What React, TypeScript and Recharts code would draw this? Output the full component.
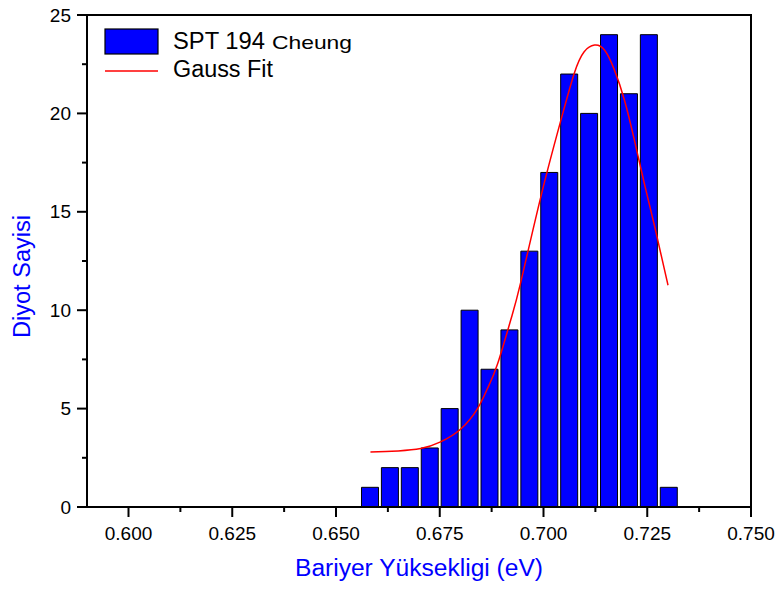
import React from "react";
import {
  ComposedChart,
  Bar,
  Line,
  XAxis,
  YAxis,
  ReferenceArea,
  Customized,
} from "recharts";

// Histogram bins (bin centers, eV) and counts
const binCenters = [
  0.6583, 0.6631, 0.6679, 0.6727, 0.6775, 0.6823, 0.6871, 0.6919, 0.6967,
  0.7015, 0.7063, 0.7111, 0.7159, 0.7207, 0.7255, 0.7303,
];
const counts = [1, 2, 2, 3, 5, 10, 7, 9, 13, 17, 22, 20, 24, 21, 24, 1];

// Gauss fit curve
const fitX = [
  0.6583, 0.662, 0.665, 0.6704, 0.6752, 0.68, 0.6841, 0.6865, 0.6889, 0.6921,
  0.6945, 0.6994, 0.7042, 0.7074, 0.7098, 0.7123, 0.7147, 0.7171, 0.7195,
  0.7219, 0.7243, 0.7268, 0.73,
];
const fitY = [
  2.8, 2.82, 2.85, 2.97, 3.31, 3.95, 5.0, 6.02, 7.25, 9.5, 11.4, 15.8, 19.66,
  22.03, 23.13, 23.47, 23.22, 22.2, 20.68, 18.64, 16.44, 14.24, 11.27,
];

// Axis ticks
const xMajorTicks = [0.6, 0.625, 0.65, 0.675, 0.7, 0.725, 0.75];
const xMajorLabels = ["0.600", "0.625", "0.650", "0.675", "0.700", "0.725", "0.750"];
const xMinorTicks = [0.6125, 0.6375, 0.6625, 0.6875, 0.7125, 0.7375];
const yMajorTicks = [0, 5, 10, 15, 20, 25];
const yMinorTicks = [2.5, 7.5, 12.5, 17.5, 22.5];

const barData = binCenters.map((x, i) => ({ x, count: counts[i] }));
const fitData = fitX.map((x, i) => ({ x, fit: fitY[i] }));

const FONT = "'Liberation Sans', Arial, Helvetica, sans-serif";
const BLUE = "#0000FF";
const X_DOMAIN: [number, number] = [0.59, 0.75];

const isMajor = (v: number, list: number[]) =>
  list.findIndex((t) => Math.abs(t - v) < 1e-6);

const XTick = (props: any) => {
  const { x, y, payload } = props;
  const idx = isMajor(payload.value, xMajorTicks);
  const len = idx >= 0 ? 10 : 5;
  return (
    <g>
      <line x1={x} y1={y} x2={x} y2={y + len} stroke="#000" strokeWidth={2} />
      {idx >= 0 && (
        <text
          x={x}
          y={y + 33}
          textAnchor="middle"
          fontFamily={FONT}
          fontSize={19}
          fill="#000"
        >
          {xMajorLabels[idx]}
        </text>
      )}
    </g>
  );
};

const YTick = (props: any) => {
  const { x, y, payload } = props;
  const idx = isMajor(payload.value, yMajorTicks);
  const len = idx >= 0 ? 10 : 5;
  return (
    <g>
      <line x1={x} y1={y} x2={x - len} y2={y} stroke="#000" strokeWidth={2} />
      {idx >= 0 && (
        <text
          x={x - 16}
          y={y}
          textAnchor="end"
          dominantBaseline="central"
          fontFamily={FONT}
          fontSize={19}
          fill="#000"
        >
          {String(yMajorTicks[idx])}
        </text>
      )}
    </g>
  );
};

const Decorations = () => (
  <g>
    {/* Legend */}
    <rect x={105} y={29} width={53} height={25} fill={BLUE} stroke="#000" strokeWidth={1.2} />
    <text x={173} y={49} fontFamily={FONT} fontSize={23} fill="#000" textLength={92} lengthAdjust="spacingAndGlyphs">
      SPT 194
    </text>
    <text x={272} y={49} fontFamily={FONT} fontSize={19} fill="#000" textLength={80} lengthAdjust="spacingAndGlyphs">
      Cheung
    </text>
    <line x1={105} y1={71} x2={158} y2={71} stroke="#FF0000" strokeWidth={1.5} />
    <text x={173} y={77} fontFamily={FONT} fontSize={23} fill="#000" textLength={100} lengthAdjust="spacingAndGlyphs">
      Gauss Fit
    </text>
    {/* Axis titles */}
    <text x={419} y={576} textAnchor="middle" fontFamily={FONT} fontSize={23} fill={BLUE} textLength={248} lengthAdjust="spacingAndGlyphs">
      Bariyer Yüksekligi (eV)
    </text>
    <text
      x={30}
      y={276.5}
      textAnchor="middle"
      fontFamily={FONT}
      fontSize={23}
      fill={BLUE}
      transform="rotate(-90 30 276.5)"
      textLength={123}
      lengthAdjust="spacingAndGlyphs"
    >
      Diyot Sayisi
    </text>
  </g>
);

export default function App() {
  return (
    <div style={{ position: "absolute", left: 0, top: 0, background: "#fff" }}>
      <ComposedChart
        width={778}
        height={589}
        data={barData}
        margin={{ top: 15, right: 27, left: 0, bottom: 0 }}
      >
        <XAxis
          xAxisId="bars"
          dataKey="x"
          type="number"
          domain={X_DOMAIN}
          allowDataOverflow
          ticks={[...xMajorTicks, ...xMinorTicks].sort((a, b) => a - b)}
          interval={0}
          tick={<XTick />}
          tickLine={false}
          tickSize={0}
          tickMargin={0}
          axisLine={{ stroke: "#000", strokeWidth: 2 }}
          height={82}
        />
        <XAxis
          xAxisId="fit"
          dataKey="x"
          type="number"
          domain={X_DOMAIN}
          allowDataOverflow
          hide
        />
        <YAxis
          type="number"
          domain={[0, 25]}
          allowDataOverflow
          ticks={[...yMajorTicks, ...yMinorTicks].sort((a, b) => a - b)}
          interval={0}
          tick={<YTick />}
          tickLine={false}
          tickSize={0}
          tickMargin={0}
          axisLine={{ stroke: "#000", strokeWidth: 2 }}
          width={87}
        />
        <ReferenceArea
          xAxisId="bars"
          x1={0.59}
          x2={0.75}
          y1={0}
          y2={25}
          fill="none"
          fillOpacity={0}
          stroke="#000"
          strokeWidth={2}
          ifOverflow="visible"
        />
        <Bar
          xAxisId="bars"
          dataKey="count"
          barSize={17}
          fill={BLUE}
          stroke="#000"
          strokeWidth={1}
          isAnimationActive={false}
        />
        <Line
          xAxisId="fit"
          data={fitData}
          dataKey="fit"
          type="natural"
          stroke="#FF0000"
          strokeWidth={1.5}
          dot={false}
          activeDot={false}
          isAnimationActive={false}
        />
        <Customized component={Decorations} />
      </ComposedChart>
    </div>
  );
}
